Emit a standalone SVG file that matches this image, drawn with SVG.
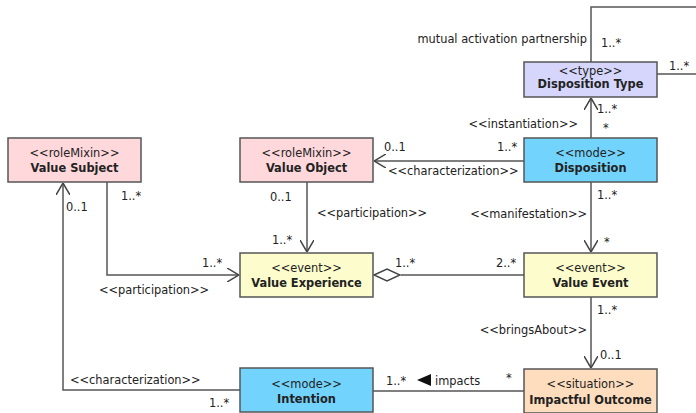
<svg xmlns="http://www.w3.org/2000/svg" width="696" height="413" viewBox="0 0 696 413">
  <style>
    text { font-family: "DejaVu Sans", "Liberation Sans", sans-serif; font-size: 11.4px; fill: #222; }
    .st { text-anchor: middle; }
    .nm { text-anchor: middle; font-weight: bold; }
    .end { text-anchor: end; }
    .box { stroke: #555; stroke-width: 1.5; }
    .role { fill: #FFD8DC; }
    .mode { fill: #72D4FC; }
    .event { fill: #FCFCCC; }
    .type { fill: #D6D6FC; }
    .situation { fill: #FDDDBE; }
    .edge { fill: none; stroke: #555; stroke-width: 1.5; }
  </style>
  <defs>
    <marker id="open" viewBox="0 0 12 14" refX="12" refY="7" markerWidth="12" markerHeight="14" markerUnits="userSpaceOnUse" orient="auto">
      <path d="M0,0 L12,7 L0,14" fill="none" stroke="#444" stroke-width="1.5"/>
    </marker>
    <marker id="diamond" viewBox="0 0 28 14" refX="0" refY="7" markerWidth="28" markerHeight="14" markerUnits="userSpaceOnUse" orient="auto">
      <path d="M1,7 L14,1 L27,7 L14,13 Z" fill="#fff" stroke="#444" stroke-width="1.4"/>
    </marker>
  </defs>

  <!-- connectors -->
  <g id="connectors">
    <!-- mutual activation partnership (self association on Disposition Type) -->
    <path class="edge" d="M591,62 V7 H697"/>
    <path class="edge" d="M657,74 H697"/>
    <!-- instantiation -->
    <path class="edge" d="M591,138 V98" marker-end="url(#open)"/>
    <!-- characterization Disposition -> Value Object -->
    <path class="edge" d="M524,161 H374" marker-end="url(#open)"/>
    <!-- manifestation -->
    <path class="edge" d="M591,182 V252" marker-end="url(#open)"/>
    <!-- participation Value Object -> Value Experience -->
    <path class="edge" d="M307,182 V252" marker-end="url(#open)"/>
    <!-- participation Value Subject -> Value Experience -->
    <path class="edge" d="M107,182 V275 H239" marker-end="url(#open)"/>
    <!-- aggregation Value Event -> Value Experience -->
    <path class="edge" d="M524,275 H401"/>
    <path d="M374,275 L387,269 L400,275 L387,281 Z" fill="#fff" stroke="#444" stroke-width="1.4"/>
    <!-- bringsAbout -->
    <path class="edge" d="M591,297 V368" marker-end="url(#open)"/>
    <!-- characterization Intention -> Value Subject -->
    <path class="edge" d="M240,390 H63 V183" marker-end="url(#open)"/>
    <!-- impacts -->
    <path class="edge" d="M373,391 H524"/>

    <!-- connector labels -->
    <text class="end" x="587" y="43">mutual activation partnership</text>
    <text x="601" y="47">1..*</text>
    <text x="669" y="70">1..*</text>
    <text class="end" x="578" y="128">&lt;&lt;instantiation&gt;&gt;</text>
    <text x="597" y="113">1..*</text>
    <text x="603" y="132">*</text>
    <text x="384" y="151">0..1</text>
    <text x="497" y="151">1..*</text>
    <text x="388" y="175">&lt;&lt;characterization&gt;&gt;</text>
    <text x="597" y="199">1..*</text>
    <text class="end" x="587" y="218">&lt;&lt;manifestation&gt;&gt;</text>
    <text x="604" y="246">*</text>
    <text x="270" y="201">0..1</text>
    <text x="317" y="217">&lt;&lt;participation&gt;&gt;</text>
    <text x="272" y="244">1..*</text>
    <text x="121" y="200">1..*</text>
    <text x="66" y="211">0..1</text>
    <text x="202" y="267">1..*</text>
    <text x="99" y="294">&lt;&lt;participation&gt;&gt;</text>
    <text x="395" y="267">1..*</text>
    <text x="496" y="267">2..*</text>
    <text x="597" y="314">1..*</text>
    <text class="end" x="587" y="334">&lt;&lt;bringsAbout&gt;&gt;</text>
    <text x="600" y="359">0..1</text>
    <text x="70" y="384">&lt;&lt;characterization&gt;&gt;</text>
    <text x="209" y="407">1..*</text>
    <text x="386" y="385">1..*</text>
    <path d="M417,380 L431,374 L431,386 Z" fill="#111"/>
    <text x="435" y="385">impacts</text>
    <text x="506" y="382">*</text>
  </g>

  <!-- nodes -->
  <g id="disposition-type">
    <rect class="box type" x="524" y="62" width="133" height="35"/>
    <text class="st" x="590.5" y="75">&lt;&lt;type&gt;&gt;</text>
    <text class="nm" x="590.5" y="88">Disposition Type</text>
  </g>
  <g id="value-subject">
    <rect class="box role" x="8" y="138" width="133" height="44"/>
    <text class="st" x="74.5" y="157">&lt;&lt;roleMixin&gt;&gt;</text>
    <text class="nm" x="74.5" y="172">Value Subject</text>
  </g>
  <g id="value-object">
    <rect class="box role" x="240" y="138" width="133" height="44"/>
    <text class="st" x="306.5" y="157">&lt;&lt;roleMixin&gt;&gt;</text>
    <text class="nm" x="306.5" y="172">Value Object</text>
  </g>
  <g id="disposition">
    <rect class="box mode" x="524" y="138" width="133" height="44"/>
    <text class="st" x="590.5" y="157">&lt;&lt;mode&gt;&gt;</text>
    <text class="nm" x="590.5" y="172">Disposition</text>
  </g>
  <g id="value-experience">
    <rect class="box event" x="240" y="253" width="133" height="44"/>
    <text class="st" x="306.5" y="272">&lt;&lt;event&gt;&gt;</text>
    <text class="nm" x="306.5" y="287">Value Experience</text>
  </g>
  <g id="value-event">
    <rect class="box event" x="524" y="253" width="133" height="44"/>
    <text class="st" x="590.5" y="272">&lt;&lt;event&gt;&gt;</text>
    <text class="nm" x="590.5" y="287">Value Event</text>
  </g>
  <g id="intention">
    <rect class="box mode" x="240" y="368" width="133" height="44"/>
    <text class="st" x="306.5" y="388">&lt;&lt;mode&gt;&gt;</text>
    <text class="nm" x="306.5" y="403">Intention</text>
  </g>
  <g id="impactful-outcome">
    <rect class="box situation" x="524" y="369" width="133" height="44"/>
    <text class="st" x="590.5" y="388">&lt;&lt;situation&gt;&gt;</text>
    <text class="nm" x="590.5" y="404">Impactful Outcome</text>
  </g>
</svg>
